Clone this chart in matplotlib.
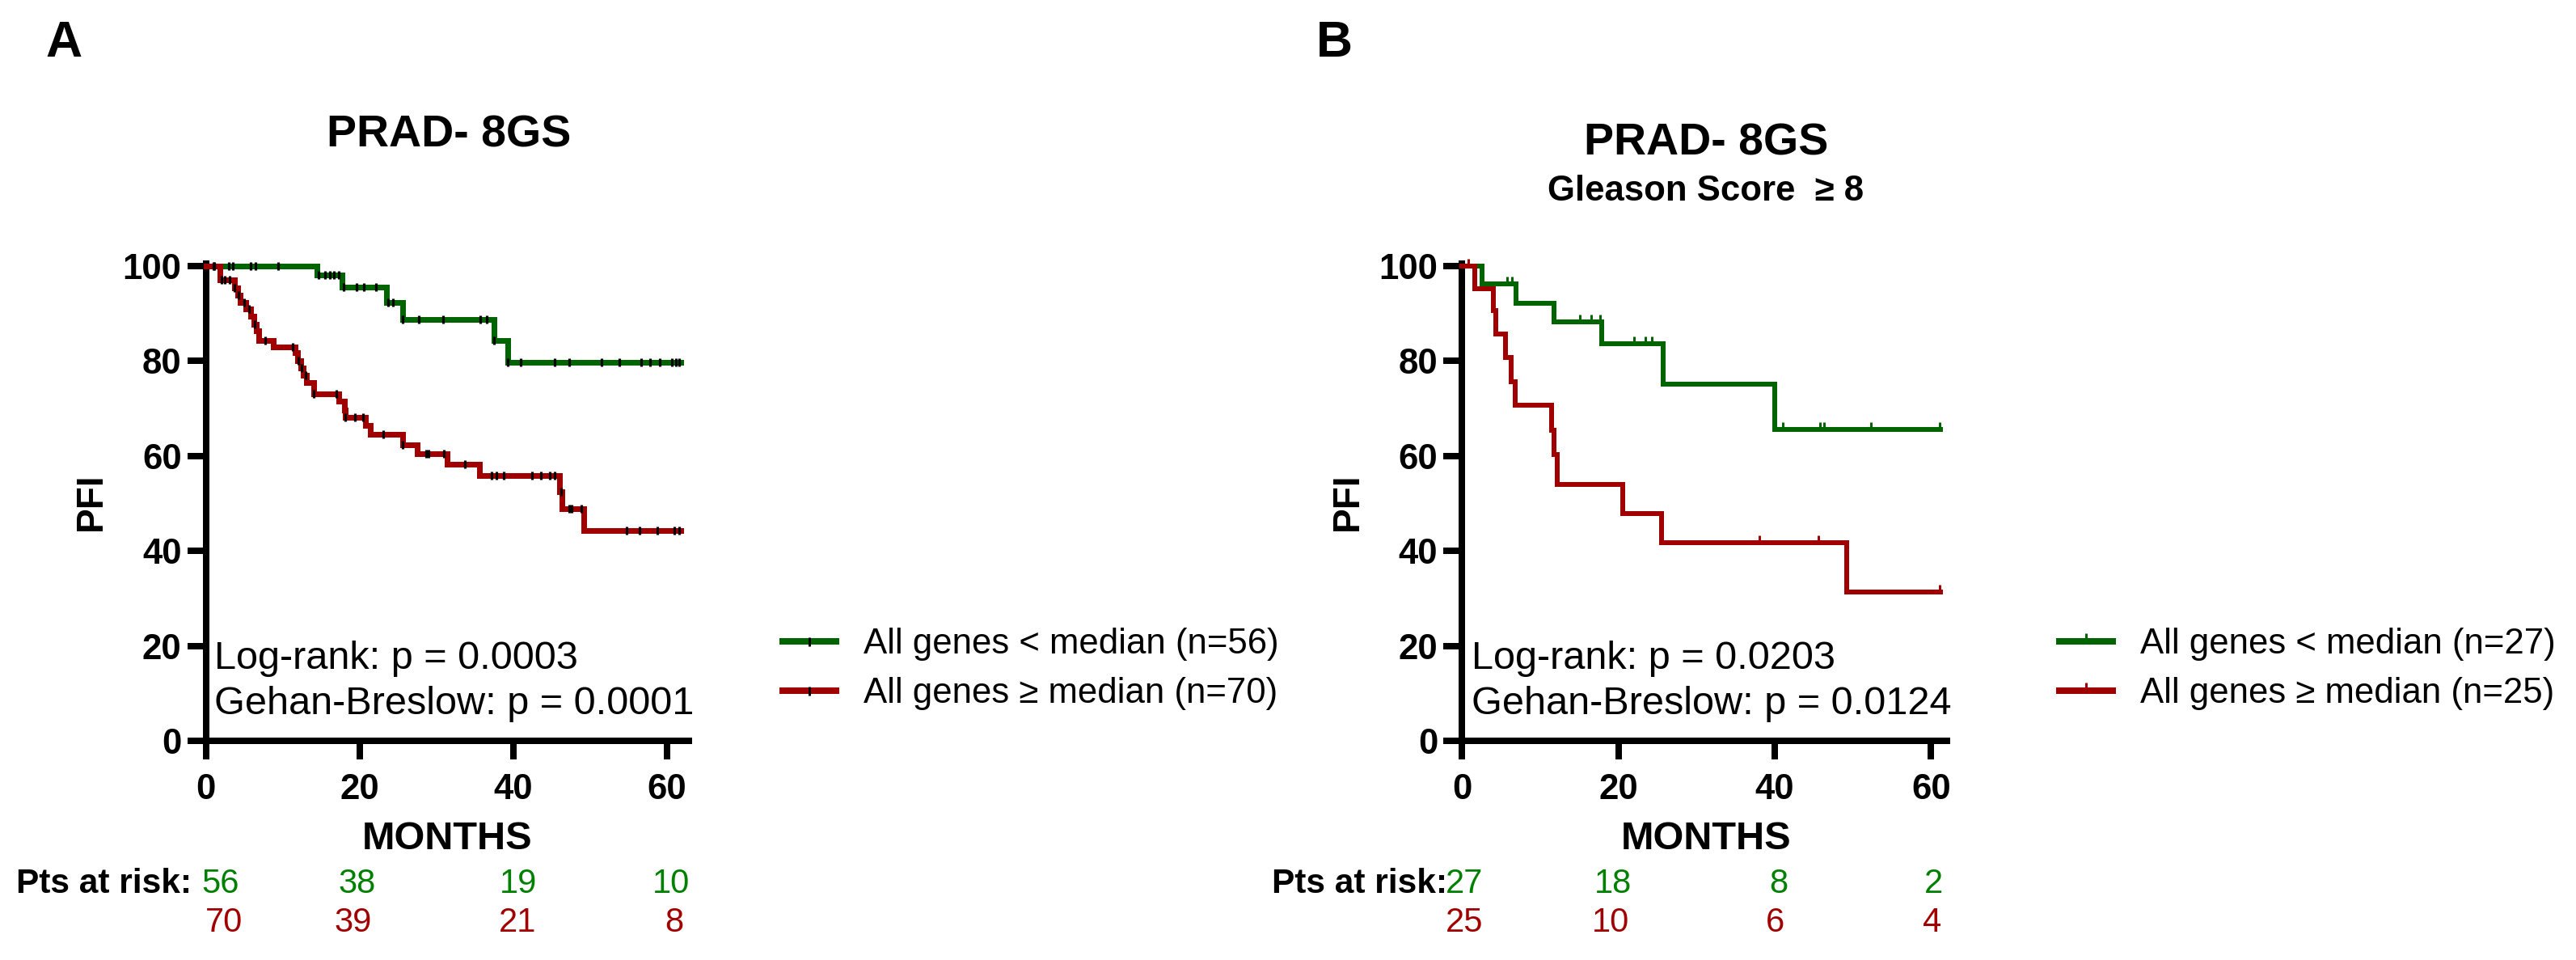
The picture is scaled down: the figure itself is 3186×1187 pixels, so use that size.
import numpy as np
import matplotlib
matplotlib.use('Agg')
import matplotlib.pyplot as plt
from matplotlib.lines import Line2D

plt.rcParams['font.family'] = ['Liberation Sans', 'DejaVu Sans']

W, H, DPI = 3186, 1187, 100

# ---------------- data ----------------
# Panel A (PRAD- 8GS)
A_green_t = [0, 14.5, 17.7, 23.5, 25.6, 37.5, 39.3, 61.8]
A_green_s = [100, 98.2, 95.6, 92.4, 88.8, 84.3, 79.8, 79.8]
A_green_cens = [1.1, 3.0, 3.5, 5.8, 6.5, 9.4, 14.7, 15.5, 16.1, 16.7, 17.3, 17.9, 19.6,
                20.6, 22.1, 23.7, 24.3, 25.6, 27.7, 30.9, 35.7, 36.5, 37.5, 39.3, 41.0,
                45.4, 47.3, 51.5, 53.8, 56.6, 57.8, 59.1, 60.6, 61.2, 61.6]
A_red_t = [0, 1.8, 3.7, 4.1, 4.5, 5.2, 5.8, 6.2, 6.6, 6.9, 8.8, 11.6, 11.9, 12.3, 12.7,
           13.1, 14.0, 17.3, 18.0, 18.1, 20.8, 21.4, 25.6, 27.5, 31.4, 35.6, 46.0, 46.3,
           49.2, 61.8]
A_red_s = [100, 97.1, 95.4, 93.9, 92.4, 91.0, 89.4, 87.8, 86.3, 84.4, 82.9, 81.7, 80.1,
           78.6, 77.0, 75.5, 73.0, 71.5, 69.6, 68.1, 66.5, 64.5, 62.4, 60.5, 58.2, 55.9,
           52.5, 48.9, 44.3, 44.3]
A_red_cens = [1.0, 2.0, 2.5, 3.1, 3.7, 4.3, 5.0, 5.6, 6.4, 7.7, 11.3, 12.0, 12.5, 13.0,
              14.0, 17.0, 18.1, 19.4, 20.5, 23.1, 25.6, 28.7, 29.0, 31.0, 33.7, 37.2,
              37.8, 38.8, 42.4, 43.6, 44.7, 45.4, 46.2, 47.3, 47.6, 48.9, 54.7, 56.4,
              58.7, 60.9, 61.6]
A_pvals = ["Log-rank: p = 0.0003", "Gehan-Breslow: p = 0.0001"]
A_labels = ["All genes < median (n=56)", "All genes \u2265 median (n=70)"]
A_risk_green = [56, 38, 19, 10]
A_risk_red = [70, 39, 21, 8]

# Panel B (PRAD- 8GS, Gleason Score >= 8)
B_green_t = [0, 2.6, 6.9, 11.8, 17.9, 25.7, 40.0, 61.2]
B_green_s = [100, 96.3, 92.2, 88.2, 83.7, 75.1, 65.6, 65.6]
B_green_cens = [5.8, 6.4, 15.1, 16.5, 17.7, 22.0, 23.4, 24.3, 41.0, 45.8, 46.3, 52.3, 61.1]
B_red_t = [0, 1.6, 4.0, 4.3, 5.6, 6.3, 6.8, 11.5, 11.8, 12.2, 20.6, 25.5, 49.2, 61.2]
B_red_s = [100, 95.2, 90.7, 85.7, 80.8, 75.7, 70.7, 65.4, 60.3, 54.0, 47.9, 41.8, 31.4, 31.4]
B_red_cens = [0.8, 38.0, 45.6, 61.1]
B_pvals = ["Log-rank: p = 0.0203", "Gehan-Breslow: p = 0.0124"]
B_labels = ["All genes < median (n=27)", "All genes \u2265 median (n=25)"]
B_risk_green = [27, 18, 8, 2]
B_risk_red = [25, 10, 6, 4]

x_ticks = [0, 20, 40, 60]
y_ticks = [0, 20, 40, 60, 80, 100]

GREEN = '#006400'
RED = '#A00000'
GREEN_TXT = '#008000'
RED_TXT = '#A00000'


def fx(x):
    return x / W


def fy(y):
    return 1 - y / H


def pt(p):
    return p * 72 / DPI


fig = plt.figure(figsize=(W / DPI, H / DPI), dpi=DPI)
fig.patch.set_facecolor('white')

Y0, Y100, YTOP = 916, 329, 322


def surv_at(t, s, c):
    idx = np.searchsorted(np.asarray(t), np.asarray(c), side='right') - 1
    return np.asarray(s)[idx]


def panel(left, right, xmax, gt, gs, gc, rt, rs, rc, lw, cens_black, pvals, labels,
          leg_x, ptext_x):
    ax = fig.add_axes([fx(left), fy(Y0), (right - left) / W, (Y0 - YTOP) / H])
    ax.set_xlim(0, xmax)
    ax.set_ylim(0, 100 * (Y0 - YTOP) / (Y0 - Y100))
    for t, s, c, col in [(gt, gs, gc, GREEN), (rt, rs, rc, RED)]:
        ax.plot(t, s, drawstyle='steps-post', color=col, lw=lw, clip_on=False,
                solid_joinstyle='miter', zorder=3)
        cy = surv_at(t, s, c)
        if cens_black:
            ax.plot(c, cy, ls='none', marker='|', color='black', ms=pt(10), mew=pt(3.2),
                    clip_on=False, zorder=4)
        else:
            ax.plot(c, cy, ls='none', marker=[(0, 0), (0, 1)], color=col, mec=col,
                    ms=pt(18), mew=pt(3), clip_on=False, zorder=4)
    for sp in ['top', 'right']:
        ax.spines[sp].set_visible(False)
    for sp in ['left', 'bottom']:
        ax.spines[sp].set_linewidth(pt(8))
        ax.spines[sp].set_capstyle('butt')
    ax.set_xticks(x_ticks)
    ax.set_yticks(y_ticks)
    ax.tick_params(axis='both', direction='out', length=pt(23), width=pt(8),
                   labelsize=31.5, colors='black')
    ax.tick_params(axis='x', pad=pt(17))
    ax.tick_params(axis='y', pad=pt(7))
    for lab in ax.get_xticklabels() + ax.get_yticklabels():
        lab.set_fontweight('bold')
    # p-values
    fig.text(fx(ptext_x), fy(827), pvals[0], fontsize=35, ha='left', va='baseline')
    fig.text(fx(ptext_x), fy(883), pvals[1], fontsize=35, ha='left', va='baseline')
    # legend
    if cens_black:
        hg = Line2D([], [], color=GREEN, lw=pt(8), marker='|', mec='black', ms=pt(11), mew=pt(3))
        hr = Line2D([], [], color=RED, lw=pt(8), marker='|', mec='black', ms=pt(11), mew=pt(3))
    else:
        hg = Line2D([], [], color=GREEN, lw=pt(8), marker=[(0, 0), (0, 1)], mec=GREEN, ms=pt(20), mew=pt(3))
        hr = Line2D([], [], color=RED, lw=pt(8), marker=[(0, 0), (0, 1)], mec=RED, ms=pt(20), mew=pt(3))
    ax.legend([hg, hr], labels, loc='center left', bbox_to_anchor=(fx(leg_x), fy(827)),
              bbox_transform=fig.transFigure, frameon=False, borderpad=0,
              borderaxespad=0, handlelength=1.5, handletextpad=0.78,
              labelspacing=0.45, prop={'size': 31.5})
    return ax


axA = panel(254.6, 856, 63.26, A_green_t, A_green_s, A_green_cens, A_red_t, A_red_s,
            A_red_cens, pt(7), True, A_pvals, A_labels, 968, 265)
axB = panel(1808.3, 2412, 62.45, B_green_t, B_green_s, B_green_cens, B_red_t, B_red_s,
            B_red_cens, pt(6), False, B_pvals, B_labels, 2547, 1819.5)

# panel letters and titles
fig.text(fx(79), fy(70), "A", fontsize=45, fontweight='bold', ha='center', va='baseline')
fig.text(fx(1650), fy(70), "B", fontsize=45, fontweight='bold', ha='center', va='baseline')
fig.text(fx(555), fy(181.7), "PRAD- 8GS", fontsize=40, fontweight='bold', ha='center', va='baseline')
fig.text(fx(2110), fy(191.7), "PRAD- 8GS", fontsize=40, fontweight='bold', ha='center', va='baseline')
fig.text(fx(2110), fy(248), "Gleason Score  \u2265 8", fontsize=31.5, fontweight='bold',
         ha='center', va='baseline')

# axis labels
for xc in [113, 1667]:
    fig.text(fx(xc), fy(620), "PFI", fontsize=33, fontweight='bold', rotation=90,
             ha='center', va='center')
for xc in [553, 2110.5]:
    fig.text(fx(xc), fy(1050), "MONTHS", fontsize=35, fontweight='bold', ha='center',
             va='baseline')

# patients at risk
fig.text(fx(20), fy(1104), "Pts at risk:", fontsize=30.5, fontweight='bold', ha='left', va='baseline')
fig.text(fx(1572.6), fy(1104), "Pts at risk:", fontsize=30.5, fontweight='bold', ha='left', va='baseline')
A_green_x = [273, 441.5, 640.6, 830]
A_red_x = [276.8, 437, 640, 834]
B_green_x = [1811, 1995, 2199.5, 2392]
B_red_x = [1811.5, 1992, 2196, 2390]
for xs, vals, col, yb in [(A_green_x, A_risk_green, GREEN_TXT, 1104),
                          (A_red_x, A_risk_red, RED_TXT, 1151.7),
                          (B_green_x, B_risk_green, GREEN_TXT, 1104),
                          (B_red_x, B_risk_red, RED_TXT, 1151.7)]:
    for x, v in zip(xs, vals):
        fig.text(fx(x), fy(yb), str(v), fontsize=30, color=col, ha='center', va='baseline')

fig.savefig('out.png', dpi=DPI, facecolor='white')
